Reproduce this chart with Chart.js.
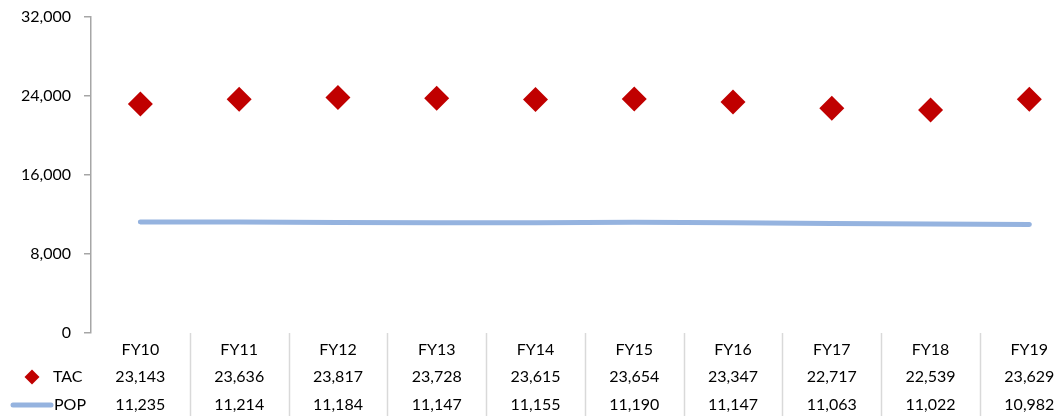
<!DOCTYPE html>
<html>
<head>
<meta charset="utf-8">
<script src="https://cdn.jsdelivr.net/npm/chart.js@4/dist/chart.umd.min.js"></script>
<style>
  html, body { margin: 0; padding: 0; background: #fff; }
  #wrap { width: 1057px; height: 416px; position: relative; }
</style>
</head>
<body>
<div id="wrap"><canvas id="c" width="1057" height="416"></canvas></div>
<script>
const categories = ['FY10','FY11','FY12','FY13','FY14','FY15','FY16','FY17','FY18','FY19'];
const tacValues = [23143,23636,23817,23728,23615,23654,23347,22717,22539,23629];
const popValues = [11235,11214,11184,11147,11155,11190,11147,11063,11022,10982];
const yTicks = [0, 8000, 16000, 24000, 32000];
const seriesNames = ['TAC', 'POP'];

const FONT = 'Lato, "Open Sans", sans-serif';
const TAC_COLOR = '#C00000';
const POP_COLOR = '#95B3DF';
const fmt = v => v.toLocaleString('en-US');

const tablePlugin = {
  id: 'dataTable',
  afterDraw(chart) {
    const ctx = chart.ctx;
    const x = chart.scales.x;
    const area = chart.chartArea;
    const top = area.bottom;
    const rowY = [top + 17, top + 44, top + 72];
    ctx.save();
    ctx.strokeStyle = '#D9D9D9';
    ctx.lineWidth = 1.5;
    for (let i = 0; i < categories.length; i++) {
      const px = Math.round(x.getPixelForValue(i + 0.5)) + 0.5;
      ctx.beginPath();
      ctx.moveTo(px, top);
      ctx.lineTo(px, chart.height);
      ctx.stroke();
    }
    ctx.fillStyle = '#000';
    ctx.font = '16px ' + FONT;
    ctx.textAlign = 'center';
    ctx.textBaseline = 'middle';
    categories.forEach((c, i) => {
      const px = x.getPixelForValue(i);
      ctx.fillText(c, px, rowY[0]);
      ctx.fillText(fmt(tacValues[i]), px, rowY[1]);
      ctx.fillText(fmt(popValues[i]), px, rowY[2]);
    });
    ctx.textAlign = 'left';
    ctx.fillText(seriesNames[0], 53, rowY[1]);
    ctx.fillText(seriesNames[1], 54, rowY[2]);
    ctx.fillStyle = TAC_COLOR;
    const dx = 32, dy = rowY[1], r = 7.5;
    ctx.beginPath();
    ctx.moveTo(dx - r, dy); ctx.lineTo(dx, dy - r); ctx.lineTo(dx + r, dy); ctx.lineTo(dx, dy + r);
    ctx.closePath(); ctx.fill();
    ctx.strokeStyle = POP_COLOR;
    ctx.lineWidth = 5;
    ctx.lineCap = 'round';
    ctx.beginPath();
    ctx.moveTo(13, rowY[2]); ctx.lineTo(51, rowY[2]); ctx.stroke();
    ctx.restore();
  }
};

new Chart(document.getElementById('c'), {
  type: 'line',
  data: {
    datasets: [
      {
        label: seriesNames[0],
        data: tacValues.map((v, i) => ({ x: i, y: v })),
        showLine: false,
        pointStyle: 'rectRot',
        pointRadius: 12.5,
        pointBackgroundColor: TAC_COLOR,
        pointBorderColor: TAC_COLOR,
        pointBorderWidth: 0,
        order: 0
      },
      {
        label: seriesNames[1],
        data: popValues.map((v, i) => ({ x: i, y: v })),
        borderColor: POP_COLOR,
        borderWidth: 5,
        borderCapStyle: 'round',
        pointRadius: 0,
        tension: 0,
        order: 1
      }
    ]
  },
  options: {
    responsive: false,
    animation: false,
    layout: { autoPadding: false, padding: { top: 16.5, bottom: 83, left: 0, right: 0 } },
    plugins: { legend: { display: false }, tooltip: { enabled: false } },
    scales: {
      x: {
        type: 'linear',
        min: -0.5,
        max: 9.28,
        display: false
      },
      y: {
        min: 0,
        max: 32000,
        afterBuildTicks: s => { s.ticks = yTicks.map(v => ({ value: v })); },
        afterFit: s => { s.width = 91; s.paddingTop = 0; s.paddingBottom = 0; },
        ticks: {
          callback: v => fmt(v),
          color: '#000',
          font: { family: FONT, size: 16 },
          padding: 13
        },
        grid: { drawOnChartArea: false, drawTicks: true, tickLength: 7, color: '#A6A6A6', lineWidth: 1.5 },
        border: { color: '#A6A6A6', width: 1.5 }
      }
    }
  },
  plugins: [tablePlugin]
});
</script>
</body>
</html>
